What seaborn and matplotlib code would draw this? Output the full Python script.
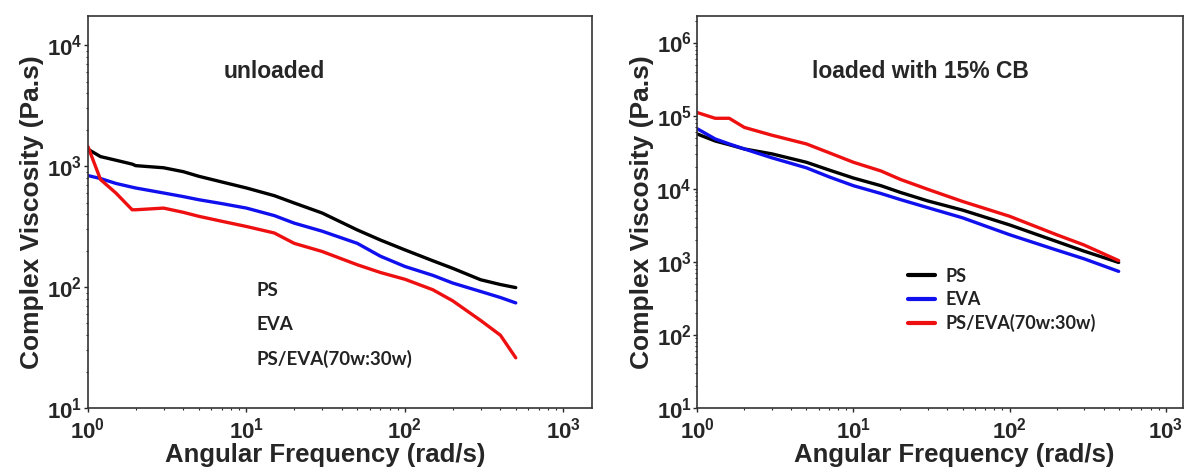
import numpy as np
import pandas as pd
import matplotlib
matplotlib.use("Agg")
import matplotlib.pyplot as plt
import matplotlib.ticker as mticker
import seaborn as sns

# frequencies (rad/s)
freq_u = [1, 1.2, 1.5, 1.9, 2, 3, 4, 5, 7, 10, 15, 20, 30, 50, 70, 100, 150, 200, 300, 400, 500]
ps_u = [1380, 1200, 1120, 1040, 1010, 970, 900, 825, 740, 660, 570, 496, 410, 297, 245, 203, 165, 143, 115, 105, 99]
eva_u = [836, 790, 720, 670, 660, 600, 560, 528, 490, 450, 390, 338, 290, 230, 180, 148, 125, 108, 92, 82, 74]
blend_u = [1450, 775, 600, 436, 436, 450, 415, 385, 350, 317, 280, 230, 197, 153, 132, 116, 95, 77, 53, 40, 26]

freq_l = [1, 1.3, 1.6, 2, 3, 5, 7, 10, 15, 20, 30, 50, 100, 200, 300, 500]
ps_l = [56000, 45000, 40000, 35000, 30000, 23000, 18000, 14000, 11000, 8900, 6800, 5100, 3200, 1900, 1400, 980]
eva_l = [66000, 48000, 41000, 35000, 26500, 19300, 14500, 11000, 8600, 7100, 5500, 4000, 2350, 1450, 1100, 740]
blend_l = [110000, 92000, 92000, 69000, 54000, 41000, 31000, 23000, 17500, 13400, 9800, 6700, 4200, 2350, 1700, 1040]

names = ["PS", "EVA", "PS/EVA(70w:30w)"]
colors = ["#000000", "#1010ee", "#ee1010"]

sns.set_style("ticks")
plt.rcParams['font.family'] = ['Liberation Sans', 'DejaVu Sans']
plt.rcParams['mathtext.fontset'] = 'custom'
plt.rcParams['mathtext.rm'] = 'Liberation Sans'
plt.rcParams['mathtext.bf'] = 'Liberation Sans:bold'

def long_df(freq, series):
    frames = []
    for nm, vals in zip(names, series):
        frames.append(pd.DataFrame({"freq": freq, "visc": vals, "sample": nm}))
    return pd.concat(frames, ignore_index=True)

def pow10(v, pos):
    return r"$\mathbf{10^{%d}}$" % int(round(np.log10(v)))

df_u = long_df(freq_u, [ps_u, eva_u, blend_u])
df_l = long_df(freq_l, [ps_l, eva_l, blend_l])

fig = plt.figure(figsize=(11.84, 4.72), dpi=100)
ax1 = fig.add_axes([0.0743, 0.1356, 0.4257, 0.83])
ax2 = fig.add_axes([0.589, 0.1356, 0.41, 0.83])

pal = dict(zip(names, colors))
sns.lineplot(data=df_u, x="freq", y="visc", hue="sample", palette=pal,
             linewidth=2.4, ax=ax1, legend=False)
sns.lineplot(data=df_l, x="freq", y="visc", hue="sample", palette=pal,
             linewidth=2.4, ax=ax2)

for ax in (ax1, ax2):
    ax.set_xscale("log")
    ax.set_yscale("log")
    ax.set_xlabel("Angular Frequency (rad/s)", fontsize=18.5, fontweight="bold", labelpad=6)
    ax.set_ylabel("Complex Viscosity (Pa.s)", fontsize=19, fontweight="bold", labelpad=2)
    ax.tick_params(labelsize=16, length=3, width=1, direction="out")
    ax.tick_params(axis="x", pad=4)
    ax.tick_params(axis="y", pad=1)
    ax.tick_params(which="minor", length=1.5, width=0.8)
    ax.xaxis.set_major_formatter(mticker.FuncFormatter(pow10))
    ax.yaxis.set_major_formatter(mticker.FuncFormatter(pow10))
    for s in ax.spines.values():
        s.set_linewidth(1.2)
        s.set_color("#333333")

ax1.set_xlim(1, 10 ** 3.18)
ax1.set_ylim(10, 10 ** 4.24)
ax2.set_xlim(1, 10 ** 3.11)
ax2.set_ylim(10, 10 ** 6.36)
ax1.set_xticks([1, 10, 100, 1000])
ax2.set_xticks([1, 10, 100, 1000])
ax1.set_yticks([10, 100, 1000, 10000])
ax2.set_yticks([10, 100, 1000, 10000, 100000, 1000000])
ax1.xaxis.set_label_coords(0.47, -0.09)
ax2.xaxis.set_label_coords(0.53, -0.09)

ax1.text(0.37, 0.86, "unloaded", transform=ax1.transAxes, fontsize=16.5,
         fontweight="bold", ha="center", va="center")
ax2.text(0.46, 0.86, "loaded with 15% CB", transform=ax2.transAxes, fontsize=16.5,
         fontweight="bold", ha="center", va="center")

# left panel: legend labels only (handles not shown)
for i, nm in enumerate(names):
    ax1.text(0.335, 0.30 - i * 0.087, nm, transform=ax1.transAxes,
             fontsize=13.5, fontfamily="Lato", fontweight="bold",
             color="#222222", va="center")

leg = ax2.legend(loc="upper left", bbox_to_anchor=(0.4, 0.4), frameon=False,
                 prop={"family": "Lato", "weight": "bold", "size": 13},
                 handlelength=1.5, handletextpad=0.6, labelspacing=0.35)
for t in leg.get_texts():
    t.set_color("#222222")
for h in leg.get_lines():
    h.set_linewidth(3)

fig.savefig("out.png", dpi=100)
